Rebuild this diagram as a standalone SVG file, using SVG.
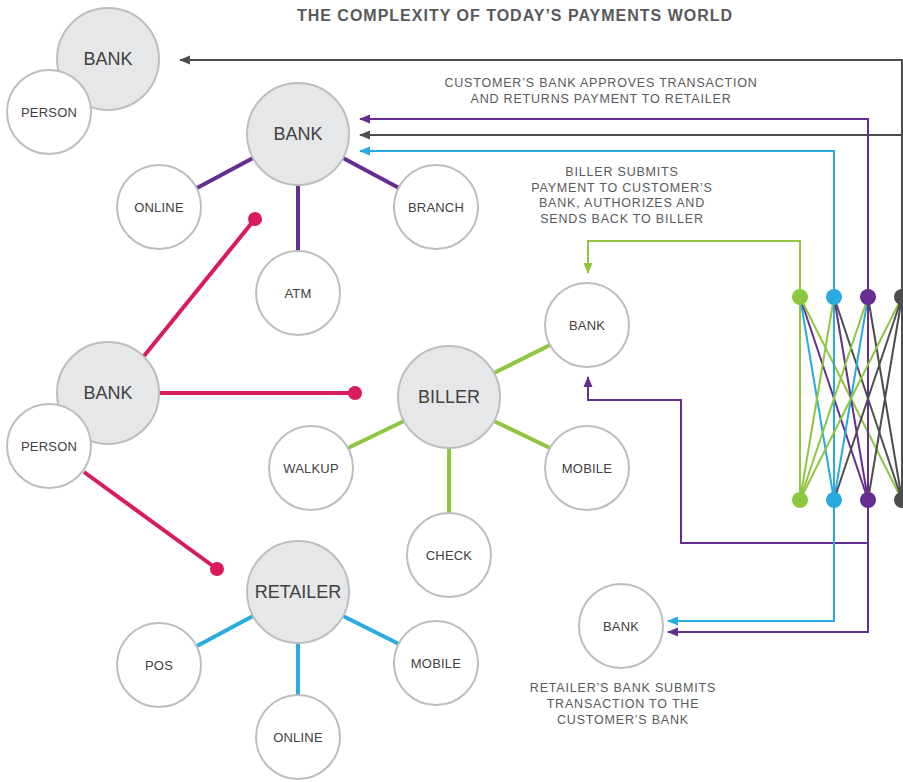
<svg xmlns="http://www.w3.org/2000/svg" width="903" height="782" viewBox="0 0 903 782">
<defs>
<style>
.big{fill:#e6e7e8;stroke:#bcbec0;stroke-width:2}
.sm{fill:#fff;stroke:#bcbec0;stroke-width:2}
.tb{font-family:"Liberation Sans",Arial,sans-serif;font-size:18px;fill:#414042;text-anchor:middle}
.ts{font-family:"Liberation Sans",Arial,sans-serif;font-size:13px;fill:#414042;text-anchor:middle;letter-spacing:0.2px}
.note{font-family:"Liberation Sans",Arial,sans-serif;font-size:12.5px;fill:#58595b;text-anchor:middle;letter-spacing:0.8px}
.title{font-family:"Liberation Sans",Arial,sans-serif;font-size:16px;font-weight:bold;fill:#58595b;text-anchor:middle;letter-spacing:1px}
.pu{stroke:#662d91}
.gr{stroke:#8dc63f}
.bl{stroke:#29abe2}
.dk{stroke:#4d4d4f}
.pk{stroke:#d91a5d}
.thick{stroke-width:4;fill:none}
.thin{stroke-width:2;fill:none}
</style>
<marker id="aGray" markerWidth="11" markerHeight="10" refX="10" refY="5" orient="auto" markerUnits="userSpaceOnUse"><path d="M0,0.5 L11,5 L0,9.5 Z" fill="#4d4d4f"/></marker>
<marker id="aPu" markerWidth="11" markerHeight="10" refX="10" refY="5" orient="auto" markerUnits="userSpaceOnUse"><path d="M0,0.5 L11,5 L0,9.5 Z" fill="#662d91"/></marker>
<marker id="aBl" markerWidth="11" markerHeight="10" refX="10" refY="5" orient="auto" markerUnits="userSpaceOnUse"><path d="M0,0.5 L11,5 L0,9.5 Z" fill="#29abe2"/></marker>
<marker id="aGr" markerWidth="11" markerHeight="10" refX="10" refY="5" orient="auto" markerUnits="userSpaceOnUse"><path d="M0,0.5 L11,5 L0,9.5 Z" fill="#8dc63f"/></marker>
</defs>
<rect width="903" height="782" fill="#fff"/>
<text class="title" x="515" y="21">THE COMPLEXITY OF TODAY’S PAYMENTS WORLD</text>

<g id="connectors">
<line class="pu thick" x1="253" y1="158" x2="197" y2="188"/>
<line class="pu thick" x1="343" y1="158" x2="399" y2="188"/>
<line class="pu thick" x1="298" y1="185" x2="298" y2="251"/>
<line class="gr thick" x1="494" y1="373" x2="550" y2="345"/>
<line class="gr thick" x1="404" y1="421" x2="348" y2="448"/>
<line class="gr thick" x1="494" y1="421" x2="550" y2="448"/>
<line class="gr thick" x1="449" y1="448" x2="449" y2="513"/>
<line class="bl thick" x1="253" y1="616" x2="197" y2="646"/>
<line class="bl thick" x1="343" y1="616" x2="399" y2="644"/>
<line class="bl thick" x1="298" y1="643" x2="298" y2="695"/>
<line class="pk thick" x1="144" y1="356" x2="255" y2="219"/>
<line class="pk thick" x1="159" y1="393" x2="355" y2="393"/>
<line class="pk thick" x1="84" y1="472" x2="217" y2="569"/>
<circle cx="255" cy="219" r="7" fill="#d91a5d"/>
<circle cx="355" cy="393" r="7" fill="#d91a5d"/>
<circle cx="217" cy="569" r="7" fill="#d91a5d"/>
<g class="thin">
<line class="gr" x1="800" y1="297" x2="800" y2="500"/>
<line class="bl" x1="800" y1="297" x2="834" y2="500"/>
<line class="pu" x1="800" y1="297" x2="868" y2="500"/>
<line class="gr" x1="800" y1="297" x2="902" y2="500"/>
<line class="gr" x1="834" y1="297" x2="800" y2="500"/>
<line class="bl" x1="834" y1="297" x2="834" y2="500"/>
<line class="pu" x1="834" y1="297" x2="868" y2="500"/>
<line class="dk" x1="834" y1="297" x2="902" y2="500"/>
<line class="gr" x1="868" y1="297" x2="800" y2="500"/>
<line class="bl" x1="868" y1="297" x2="834" y2="500"/>
<line class="pu" x1="868" y1="297" x2="868" y2="500"/>
<line class="dk" x1="868" y1="297" x2="902" y2="500"/>
<line class="gr" x1="902" y1="297" x2="800" y2="500"/>
<line class="dk" x1="902" y1="297" x2="834" y2="500"/>
<line class="dk" x1="902" y1="297" x2="868" y2="500"/>
<line class="dk" x1="902" y1="297" x2="902" y2="500"/>
</g>
<polyline class="dk thin" points="902,297 902,60 180,60" marker-end="url(#aGray)"/>
<polyline class="dk thin" points="902,135 360,135" marker-end="url(#aGray)"/>
<polyline class="pu thin" points="868,297 868,119 360,119" marker-end="url(#aPu)"/>
<polyline class="bl thin" points="834,297 834,151 360,151" marker-end="url(#aBl)"/>
<polyline class="gr thin" points="800,297 800,241 588,241 588,273" marker-end="url(#aGr)"/>
<polyline class="pu thin" points="868,500 868,543 681,543 681,400 588,400 588,377" marker-end="url(#aPu)"/>
<polyline class="pu thin" points="868,543 868,632 668,632" marker-end="url(#aPu)"/>
<polyline class="bl thin" points="834,500 834,621 668,621" marker-end="url(#aBl)"/>
<circle cx="800" cy="297" r="8" fill="#8dc63f"/>
<circle cx="834" cy="297" r="8" fill="#29abe2"/>
<circle cx="868" cy="297" r="8" fill="#662d91"/>
<circle cx="902" cy="297" r="8" fill="#4d4d4f"/>
<circle cx="800" cy="500" r="8" fill="#8dc63f"/>
<circle cx="834" cy="500" r="8" fill="#29abe2"/>
<circle cx="868" cy="500" r="8" fill="#662d91"/>
<circle cx="902" cy="500" r="8" fill="#4d4d4f"/>
</g>

<g id="bank1"><circle class="big" cx="108" cy="59" r="51"/><text class="tb" x="108" y="65">BANK</text></g>
<g id="person1"><circle class="sm" cx="49" cy="112" r="42"/><text class="ts" x="49" y="117">PERSON</text></g>

<g id="bank2"><circle class="big" cx="298" cy="134" r="51"/><text class="tb" x="298" y="140">BANK</text></g>
<g id="online1"><circle class="sm" cx="159" cy="207" r="42"/><text class="ts" x="159" y="212">ONLINE</text></g>
<g id="branch"><circle class="sm" cx="436" cy="207" r="42"/><text class="ts" x="436" y="212">BRANCH</text></g>
<g id="atm"><circle class="sm" cx="298" cy="293" r="42"/><text class="ts" x="298" y="298">ATM</text></g>

<g id="bank3"><circle class="big" cx="108" cy="393" r="51"/><text class="tb" x="108" y="399">BANK</text></g>
<g id="person2"><circle class="sm" cx="49" cy="446" r="42"/><text class="ts" x="49" y="451">PERSON</text></g>

<g id="biller"><circle class="big" cx="449" cy="397" r="51"/><text class="tb" x="449" y="403">BILLER</text></g>
<g id="bank4"><circle class="sm" cx="587" cy="325" r="42"/><text class="ts" x="587" y="330">BANK</text></g>
<g id="walkup"><circle class="sm" cx="311" cy="468" r="42"/><text class="ts" x="311" y="473">WALKUP</text></g>
<g id="mobile1"><circle class="sm" cx="587" cy="468" r="42"/><text class="ts" x="587" y="473">MOBILE</text></g>
<g id="check"><circle class="sm" cx="449" cy="555" r="42"/><text class="ts" x="449" y="560">CHECK</text></g>

<g id="retailer"><circle class="big" cx="298" cy="592" r="51"/><text class="tb" x="298" y="598">RETAILER</text></g>
<g id="pos"><circle class="sm" cx="159" cy="665" r="42"/><text class="ts" x="159" y="670">POS</text></g>
<g id="mobile2"><circle class="sm" cx="436" cy="663" r="42"/><text class="ts" x="436" y="668">MOBILE</text></g>
<g id="online2"><circle class="sm" cx="298" cy="737" r="42"/><text class="ts" x="298" y="742">ONLINE</text></g>

<g id="bank5"><circle class="sm" cx="621" cy="626" r="42"/><text class="ts" x="621" y="631">BANK</text></g>

<g id="notes">
<text class="note" x="601" y="87">CUSTOMER’S BANK APPROVES TRANSACTION</text>
<text class="note" x="601" y="103">AND RETURNS PAYMENT TO RETAILER</text>
<text class="note" x="622" y="176">BILLER SUBMITS</text>
<text class="note" x="622" y="192">PAYMENT TO CUSTOMER’S</text>
<text class="note" x="622" y="207">BANK, AUTHORIZES AND</text>
<text class="note" x="622" y="223">SENDS BACK TO BILLER</text>
<text class="note" x="623" y="692">RETAILER’S BANK SUBMITS</text>
<text class="note" x="623" y="708">TRANSACTION TO THE</text>
<text class="note" x="623" y="724">CUSTOMER’S BANK</text>
</g>
</svg>
